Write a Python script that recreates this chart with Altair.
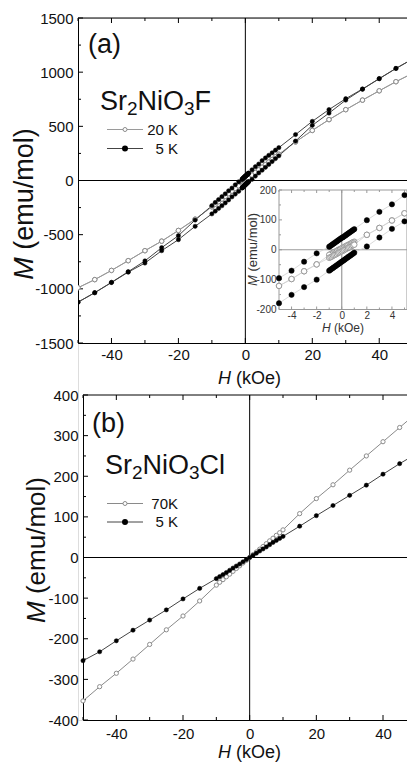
import altair as alt
import pandas as pd

FONT = "Liberation Sans"

# ---------------- panel (a): Sr2NiO3F, hysteresis loops ----------------
H_a = [-50, -45, -40, -35, -30, -25, -20, -15, -10, -9, -8, -7, -6, -5, -4, -3, -2,
       -1.0, -0.9, -0.8, -0.7, -0.6, -0.5, -0.4, -0.3, -0.2, -0.1, 0.0,
       0.1, 0.2, 0.3, 0.4, 0.5, 0.6, 0.7, 0.8, 0.9, 1.0,
       2, 3, 4, 5, 6, 7, 8, 9, 10, 15, 20, 25, 30, 35, 40, 45, 50]
# 5 K, field sweeping down (upper branch)
M5_a_down = [-1123, -1036, -940, -842, -742, -620, -509, -365, -232, -203, -176, -149, -123, -95, -70, -40, -12,
             10, 13, 16, 19, 22, 25, 28, 31, 34, 37, 40,
             42, 45, 48, 51, 54, 57, 60, 63, 66, 69,
             99, 127, 152, 183, 208, 232, 256, 280, 303, 424, 546, 655, 755, 845, 940, 1035, 1122]
# 5 K, field sweeping up (lower branch)
M5_a_up = [-1123, -1036, -942, -846, -762, -648, -546, -423, -308, -283, -258, -233, -207, -179, -151, -125, -100,
           -70, -67, -64, -61, -58, -55, -52, -49, -46, -43, -40,
           -37, -34, -31, -28, -25, -22, -19, -16, -13, -10,
           11, 41, 70, 95, 122, 148, 175, 202, 228, 364, 509, 622, 742, 842, 940, 1034, 1122]
# 20 K, sweeping down
M20_a_down = [-990, -915, -830, -740, -648, -560, -461, -357, -243, -219, -195, -171, -147, -121, -98, -72, -49,
              -17, -15, -13, -10, -8, -6, -4, -1, 1, 3, 5,
              7, 9, 12, 14, 16, 18, 20, 23, 25, 27,
              50, 73, 98, 122, 146, 170, 194, 218, 242, 356, 462, 562, 654, 742, 828, 912, 990]
# 20 K, sweeping up
M20_a_up = [-990, -915, -830, -740, -648, -560, -461, -357, -243, -219, -195, -171, -147, -121, -98, -72, -49,
            -27, -25, -23, -20, -18, -16, -14, -11, -9, -7, -5,
            -3, -1, 2, 4, 6, 8, 10, 13, 15, 17,
            50, 73, 98, 122, 146, 170, 194, 218, 242, 356, 462, 562, 654, 742, 828, 912, 990]

# ---------------- panel (b): Sr2NiO3Cl ----------------
H_b = [-50, -45, -40, -35, -30, -25, -20, -15,
       -10, -9, -8, -7, -6, -5, -4, -3, -2, -1, 0, 1, 2, 3, 4, 5, 6, 7, 8, 9, 10,
       15, 20, 25, 30, 35, 40, 45, 50]
M5_b = [-254, -232, -205, -179, -154, -129, -102, -76,
        -52, -47, -42, -37, -31.5, -26, -21, -16, -10.5, -5, 0, 5, 10.5, 16, 21, 26, 31.5, 37, 42, 47, 52,
        77, 103, 128, 153, 178, 205, 231, 255]
M70_b = [-353, -318, -285, -250, -214, -178, -144, -107,
         -68, -61, -54.5, -47.5, -41, -34, -27, -20.5, -13.5, -7, 0, 7, 13.5, 20.5, 27, 34, 41, 47.5, 54.5, 61, 68,
         108, 145, 179, 215, 250, 285, 320, 355]

# ---------------- tick values ----------------
X_MAJOR = [-40, -20, 0, 20, 40]
X_MINOR = [-50, -30, -10, 10, 30]
AY_MAJOR = [-1500, -1000, -500, 0, 500, 1000, 1500]
AY_MINOR = [-1250, -750, -250, 250, 750, 1250]
BY_MAJOR = [-400, -300, -200, -100, 0, 100, 200, 300, 400]
BY_MINOR = [-350, -250, -150, -50, 50, 150, 250, 350]
IX_MAJOR = [-4, -2, 0, 2, 4]
IX_MINOR = [-5, -3, -1, 1, 3, 5]
IY_MAJOR = [-200, -100, 0, 100, 200]
IY_MINOR = [-150, -50, 50, 150]

# ---------------- layout (pixels inside the drawing area) ----------------
W, HT = 329, 702
A_BOT = 325
B_TOP, B_LEFT = 377, 5
I_X0, I_X1, I_TOP, I_BOT = 201, 329, 172, 291.5

sa_x = alt.Scale(domain=[-50, 48.3], range=[0, W], nice=False, zero=False)
sa_y = alt.Scale(domain=[-1500, 1500], range=[A_BOT, 0], nice=False, zero=False)
sb_x = alt.Scale(domain=[-50, 47.2], range=[B_LEFT, W], nice=False, zero=False)
sb_y = alt.Scale(domain=[-400, 400], range=[HT, B_TOP], nice=False, zero=False)
si_x = alt.Scale(domain=[-5, 5.2], range=[I_X0, I_X1], nice=False, zero=False)
si_y = alt.Scale(domain=[-200, 200], range=[I_BOT, I_TOP], nice=False, zero=False)

LBL = "'' + datum.value"
common_axis = dict(ticks=False, grid=False, title=None, labelFont=FONT, labelFlush=False,
                   labelOverlap=False, domainColor="black", domainWidth=1, labelExpr=LBL)
ax_a_x = alt.Axis(orient="bottom", offset=-(HT - A_BOT), values=X_MAJOR, labelFontSize=15,
                  labelPadding=4, labelColor="#111", **common_axis)
ax_a_y = alt.Axis(orient="left", offset=0, values=AY_MAJOR, labelFontSize=15,
                  labelPadding=5, labelColor="#111", **common_axis)
ax_b_x = alt.Axis(orient="bottom", offset=0, values=X_MAJOR, labelFontSize=15,
                  labelPadding=6, labelColor="#111", **common_axis)
ax_b_y = alt.Axis(orient="left", offset=-B_LEFT, values=BY_MAJOR, labelFontSize=15,
                  labelPadding=5, labelColor="#111", **common_axis)
inset_axis = dict(ticks=False, grid=False, title=None, labelFont=FONT, labelFlush=False,
                  labelOverlap=False, domain=False, labelFontSize=10, labelColor="#333", labelExpr=LBL)
ax_i_x = alt.Axis(orient="bottom", offset=-(HT - I_BOT), values=IX_MAJOR, labelPadding=1, **inset_axis)
ax_i_y = alt.Axis(orient="left", offset=-I_X0, values=IY_MAJOR, labelPadding=3, **inset_axis)


def loop_frame(H, down, up):
    rows = []
    n = len(H)
    for k, i in enumerate(reversed(range(n))):
        rows.append({"H": H[i], "M": down[i], "o": k})
    for i in range(n):
        rows.append({"H": H[i], "M": up[i], "o": n + i})
    return pd.DataFrame(rows)


def sweep_frame(H, M):
    return pd.DataFrame({"H": H, "M": M, "o": list(range(len(H)))})


def series(df, sx, sy, ax, ay, open_, line_color, size, clip=True, filt=None, lw=1.0, ostroke="#8c8c8c"):
    base = alt.Chart(df)
    if filt:
        base = base.transform_filter(filt)
    enc = dict(x=alt.X("H:Q", scale=sx, axis=ax), y=alt.Y("M:Q", scale=sy, axis=ay))
    line = base.mark_line(color=line_color, strokeWidth=lw, clip=clip).encode(order="o:Q", **enc)
    if open_:
        pts = base.mark_point(shape="circle", filled=True, fill="white", stroke=ostroke,
                              strokeWidth=1, size=size, opacity=1, clip=clip)
    else:
        pts = base.mark_point(shape="circle", filled=True, fill="black", stroke="black",
                              strokeWidth=0.5, size=size, opacity=1, clip=clip)
    return line, pts.encode(**enc)


def xticks(vals, sx, ax, y_edge, length, color="black", w=1.0):
    return alt.Chart(pd.DataFrame({"t": vals})).mark_rule(color=color, strokeWidth=w).encode(
        x=alt.X("t:Q", scale=sx, axis=ax), y=alt.value(y_edge), y2=alt.value(y_edge + length))


def yticks(vals, sy, ay, x_edge, length, color="black", w=1.0):
    return alt.Chart(pd.DataFrame({"t": vals})).mark_rule(color=color, strokeWidth=w).encode(
        y=alt.Y("t:Q", scale=sy, axis=ay), x=alt.value(x_edge), x2=alt.value(x_edge + length))


def txt(s, x, y, size, italic=False, align="left", baseline="alphabetic", angle=0, color="#111"):
    return alt.Chart(pd.DataFrame({"s": [s]})).mark_text(
        text=s, font=FONT, fontSize=size, fontStyle="italic" if italic else "normal",
        align=align, baseline=baseline, angle=angle, color=color).encode(
        x=alt.value(x), y=alt.value(y))


WID = {"S": .667, "r": .333, "N": .722, "i": .222, "O": .778, "F": .611, "C": .722, "l": .222,
       "2": .556, "3": .556}


def formula(parts, x0, y0, size, sub):
    out = []
    x = x0
    for s, is_sub in parts:
        fs = sub if is_sub else size
        out.append(txt(s, x, y0 + (5 if is_sub else 0), fs))
        x += sum(WID[c] for c in s) * fs
    return out


def xtitle(xc, yb, size, color="#111"):
    wh, ws, wr = .722 * size, .278 * size, 2.5 * size
    x0 = xc - (wh + ws + wr) / 2
    return [txt("H", x0, yb, size, italic=True, color=color),
            txt("(kOe)", x0 + wh + ws, yb, size, color=color)]


def ytitle_at(xb, yc, size, color="#111"):
    wm, ws, wr = .833 * size, .278 * size, 4.5 * size
    bottom = yc + (wm + ws + wr) / 2
    anchor = bottom - wm
    return [txt("M", xb, anchor, size, italic=True, align="right", angle=270, color=color),
            txt("(emu/mol)", xb, anchor - ws, size, align="left", angle=270, color=color)]


def legend_row(y, label, open_, line_color, ostroke="#8c8c8c"):
    rule = alt.Chart(pd.DataFrame({"s": [label]})).mark_rule(color=line_color, strokeWidth=1).encode(
        x=alt.value(29), x2=alt.value(65), y=alt.value(y))
    if open_:
        pt = alt.Chart(pd.DataFrame({"s": [label]})).mark_point(
            shape="circle", filled=True, fill="white", stroke=ostroke, strokeWidth=1, size=16, opacity=1)
    else:
        pt = alt.Chart(pd.DataFrame({"s": [label]})).mark_point(
            shape="circle", filled=True, fill="black", stroke="black", size=16, opacity=1)
    pt = pt.encode(x=alt.value(47), y=alt.value(y))
    lab = txt(label, 100, y, 15, align="right", baseline="middle")
    return [rule, pt, lab]


def one(df_mark):
    return alt.Chart(pd.DataFrame({"v": [0]})).mark_rule(**df_mark)


# ---------------- panel (a) ----------------
df5a = loop_frame(H_a, M5_a_down, M5_a_up)
df20a = loop_frame(H_a, M20_a_down, M20_a_up)

l20a, p20a = series(df20a, sa_x, sa_y, ax_a_x, ax_a_y, True, "#9a9a9a", 20)
l5a, p5a = series(df5a, sa_x, sa_y, ax_a_x, ax_a_y, False, "#444444", 18)

zero_a = [
    one(dict(color="black", strokeWidth=1)).encode(
        x=alt.X(datum=0, scale=sa_x, axis=ax_a_x),
        y=alt.Y(datum=-1500, scale=sa_y, axis=ax_a_y), y2=alt.Y2(datum=1500)),
    one(dict(color="black", strokeWidth=1)).encode(
        y=alt.Y(datum=0, scale=sa_y, axis=ax_a_y),
        x=alt.X(datum=-50, scale=sa_x, axis=ax_a_x), x2=alt.X2(datum=48.3)),
]
frame_a = [
    one(dict(color="black", strokeWidth=1)).encode(x=alt.value(0), x2=alt.value(W), y=alt.value(0)),
    xticks(X_MAJOR, sa_x, ax_a_x, A_BOT, -5), xticks(X_MINOR, sa_x, ax_a_x, A_BOT, -3),
    xticks(X_MAJOR, sa_x, ax_a_x, 0, 5), xticks(X_MINOR, sa_x, ax_a_x, 0, 3),
    yticks(AY_MAJOR, sa_y, ax_a_y, 0, 5), yticks(AY_MINOR, sa_y, ax_a_y, 0, 3),
]
text_a = ([txt("(a)", 10, 35, 27)]
          + formula([("Sr", False), ("2", True), ("NiO", False), ("3", True), ("F", False)], 22, 92, 27, 19)
          + legend_row(111.5, "20 K", True, "#9a9a9a")
          + legend_row(130.5, "5 K", False, "#444444")
          + xtitle(171.5, 366, 18)
          + ytitle_at(-45, 186, 27))

group_a = alt.layer(*(zero_a + frame_a + [l20a, l5a, p20a, p5a] + text_a))

# ---------------- inset of (a) ----------------
filt = "abs(datum.H) <= 5"
li20, pi20 = series(df20a, si_x, si_y, ax_i_x, ax_i_y, True, "#cfcfcf", 30, clip=False, filt=filt, lw=0.8,
                    ostroke="#9a9a9a")
li5, pi5 = series(df5a, si_x, si_y, ax_i_x, ax_i_y, False, "#cfcfcf", 28, clip=False, filt=filt, lw=0.8)
inset_frame = alt.Chart(pd.DataFrame({"v": [0]})).mark_rect(fill="white", stroke="#999999", strokeWidth=1).encode(
    x=alt.X(datum=-5, scale=si_x, axis=ax_i_x), x2=alt.X2(datum=5.2),
    y=alt.Y(datum=-200, scale=si_y, axis=ax_i_y), y2=alt.Y2(datum=200))
inset_zero = [
    one(dict(color="#9a9a9a", strokeWidth=1.2)).encode(
        x=alt.X(datum=0, scale=si_x, axis=ax_i_x),
        y=alt.Y(datum=-200, scale=si_y, axis=ax_i_y), y2=alt.Y2(datum=200)),
    one(dict(color="#9a9a9a", strokeWidth=1.2)).encode(
        y=alt.Y(datum=0, scale=si_y, axis=ax_i_y),
        x=alt.X(datum=-5, scale=si_x, axis=ax_i_x), x2=alt.X2(datum=5.2)),
]
inset_ticks = [
    xticks(IX_MAJOR, si_x, ax_i_x, I_BOT, -3, "#999999"), xticks(IX_MINOR, si_x, ax_i_x, I_BOT, -2, "#999999"),
    xticks(IX_MAJOR, si_x, ax_i_x, I_TOP, 3, "#999999"), xticks(IX_MINOR, si_x, ax_i_x, I_TOP, 2, "#999999"),
    yticks(IY_MAJOR, si_y, ax_i_y, I_X0, 3, "#999999"), yticks(IY_MINOR, si_y, ax_i_y, I_X0, 2, "#999999"),
]
inset_text = xtitle(265, 314, 12, "#333") + ytitle_at(179, 231.5, 13, "#333")
group_i = alt.layer(*([inset_frame] + inset_zero + inset_ticks + [li20, li5, pi20, pi5] + inset_text))

# ---------------- panel (b) ----------------
df5b = sweep_frame(H_b, M5_b)
df70b = sweep_frame(H_b, M70_b)
l70b, p70b = series(df70b, sb_x, sb_y, ax_b_x, ax_b_y, True, "#8a8a8a", 18)
l5b, p5b = series(df5b, sb_x, sb_y, ax_b_x, ax_b_y, False, "#444444", 18)

zero_b = [
    one(dict(color="black", strokeWidth=1)).encode(
        x=alt.X(datum=0, scale=sb_x, axis=ax_b_x),
        y=alt.Y(datum=-400, scale=sb_y, axis=ax_b_y), y2=alt.Y2(datum=400)),
    one(dict(color="black", strokeWidth=1)).encode(
        y=alt.Y(datum=0, scale=sb_y, axis=ax_b_y),
        x=alt.X(datum=-50, scale=sb_x, axis=ax_b_x), x2=alt.X2(datum=47.2)),
]
frame_b = [
    one(dict(color="black", strokeWidth=1)).encode(x=alt.value(B_LEFT), x2=alt.value(W), y=alt.value(B_TOP)),
    xticks(X_MAJOR, sb_x, ax_b_x, HT, -5), xticks(X_MINOR, sb_x, ax_b_x, HT, -3),
    xticks(X_MAJOR, sb_x, ax_b_x, B_TOP, 5), xticks(X_MINOR, sb_x, ax_b_x, B_TOP, 3),
    yticks(BY_MAJOR, sb_y, ax_b_y, B_LEFT, 5), yticks(BY_MINOR, sb_y, ax_b_y, B_LEFT, 3),
]
text_b = ([txt("(b)", 14, 414, 27)]
          + formula([("Sr", False), ("2", True), ("NiO", False), ("3", True), ("Cl", False)], 27, 456, 27, 19)
          + legend_row(485.5, "70K", True, "#8a8a8a")
          + legend_row(504, "5 K", False, "#444444")
          + xtitle(171.5, 740, 18)
          + ytitle_at(-33, 532, 26))

group_b = alt.layer(*(zero_b + frame_b + [l70b, l5b, p70b, p5b] + text_b))

chart = alt.layer(group_a, group_i, group_b).resolve_scale(
    x="independent", y="independent").properties(
    width=W, height=HT,
    autosize=alt.AutoSizeParams(type="none"),
    padding={"left": 78, "top": 18, "right": 0, "bottom": 43},
).configure_view(stroke=None).configure(font=FONT)

chart.save("out.html", embed_options={"renderer": "svg", "actions": False})
